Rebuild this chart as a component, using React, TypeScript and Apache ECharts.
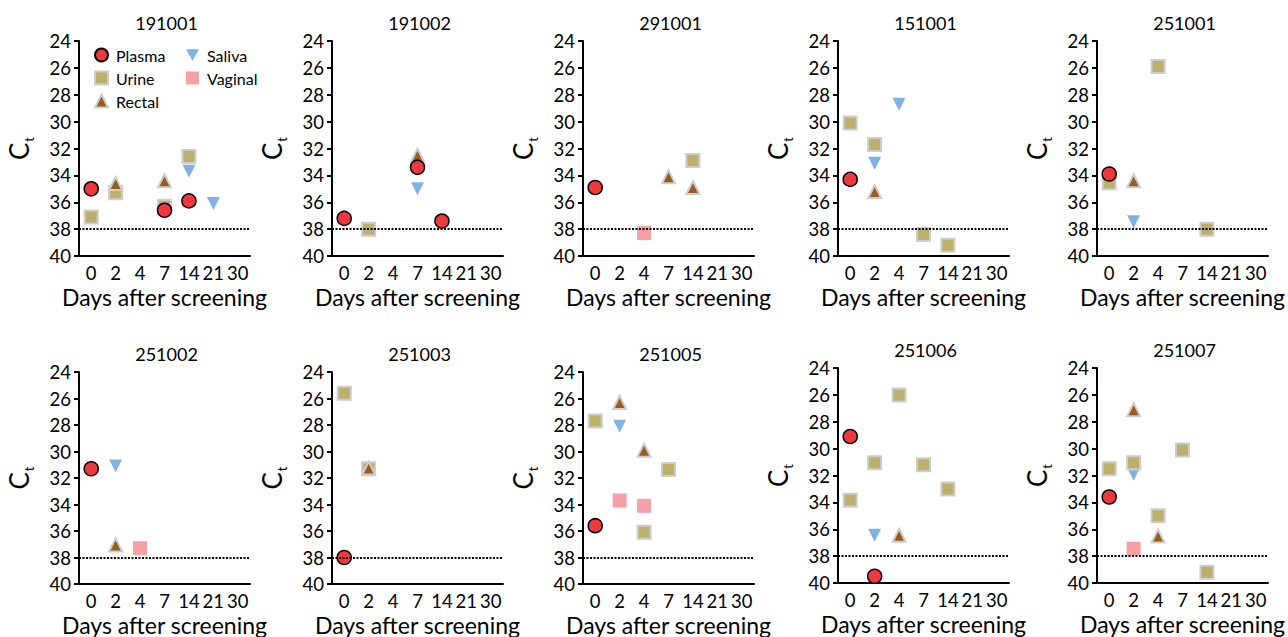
import React, { useEffect, useRef } from "react";
import * as echarts from "echarts";

const categories = ["0", "2", "4", "7", "14", "21", "30"];
const panelTitles = ["191001", "191002", "291001", "151001", "251001", "251002", "251003", "251005", "251006", "251007"];
const yTicks = { min: 24, max: 40, interval: 2 };
const threshold = 38;

// [day, Ct] per panel
const plasma = [
  [[0, 35.0], [7, 36.6], [14, 35.9]],
  [[0, 37.2], [7, 33.4], [14, 37.4]],
  [[0, 34.9]],
  [[0, 34.3]],
  [[0, 33.9]],
  [[0, 31.3]],
  [[0, 38.0]],
  [[0, 35.6]],
  [[0, 29.1], [2, 39.5]],
  [[0, 33.6]],
];
const urine = [
  [[0, 37.1], [2, 35.3], [7, 36.3], [14, 32.6]],
  [[2, 38.0]],
  [[14, 32.9]],
  [[0, 30.1], [2, 31.7], [7, 38.4], [14, 39.2]],
  [[0, 34.55], [4, 25.9], [14, 38.0]],
  [],
  [[0, 25.6], [2, 31.3]],
  [[0, 27.7], [4, 36.1], [7, 31.35]],
  [[0, 33.85], [2, 31.05], [4, 26.0], [7, 31.2], [14, 33.0]],
  [[0, 31.5], [2, 31.05], [4, 35.0], [7, 30.1], [14, 39.2]],
];
const rectal = [
  [[2, 34.6], [7, 34.4]],
  [[7, 32.5]],
  [[7, 34.1], [14, 34.9]],
  [[2, 35.2]],
  [[2, 34.4]],
  [[2, 37.05]],
  [[2, 31.25]],
  [[2, 26.3], [4, 29.9]],
  [[4, 36.45]],
  [[2, 27.1], [4, 36.5]],
];
const saliva = [
  [[14, 33.7], [21, 36.1]],
  [[7, 35.0]],
  [],
  [[2, 33.1], [4, 28.7]],
  [[2, 37.45]],
  [[2, 31.1]],
  [],
  [[2, 28.1]],
  [[2, 36.45]],
  [[2, 31.9]],
];
const vaginal = [
  [],
  [],
  [[4, 38.3]],
  [],
  [],
  [[4, 37.3]],
  [],
  [[2, 33.7], [4, 34.1]],
  [],
  [[2, 37.45]],
];

const FONT = "Lato";

export default function App() {
  const ref = useRef<HTMLDivElement>(null);
  useEffect(() => {
    if (!ref.current) return;
    const chart = echarts.init(ref.current, null, { renderer: "svg" });
    const lefts = [79, 332, 583, 838, 1097];
    const gridW = 171;
    const gridH = 215;
    const tops = [41, 41, 41, 41, 41, 372, 372, 372, 368, 368];
    const grids: any[] = [];
    const xAxes: any[] = [];
    const yAxes: any[] = [];
    const titles: any[] = [];
    const series: any[] = [];
    const toData = (arr: number[][]) => arr.map((d) => [String(d[0]), d[1]]);
    const greyBorder = "#cdcdcd";
    for (let i = 0; i < 10; i++) {
      const left = lefts[i % 5];
      const top = tops[i];
      grids.push({ left, top, width: gridW, height: gridH, containLabel: false });
      titles.push({
        text: panelTitles[i],
        left: left + gridW / 2 - 3,
        top: top - 32,
        textAlign: "center",
        textStyle: { fontFamily: FONT, fontSize: 18, fontWeight: "normal", color: "#000" },
      });
      xAxes.push({
        type: "category",
        gridIndex: i,
        data: categories,
        boundaryGap: true,
        name: "Days after screening",
        nameLocation: "middle",
        nameGap: 29,
        nameTextStyle: { fontFamily: FONT, fontSize: 23, lineHeight: 23, color: "#000" },
        axisLine: { lineStyle: { color: "#000", width: 2 } },
        axisTick: { alignWithLabel: true, length: 5, lineStyle: { color: "#000", width: 2 } },
        axisLabel: { fontFamily: FONT, fontSize: 18.5, lineHeight: 18, color: "#000", margin: 8, interval: 0 },
        splitLine: { show: false },
      });
      yAxes.push({
        type: "value",
        gridIndex: i,
        inverse: true,
        min: yTicks.min,
        max: yTicks.max,
        interval: yTicks.interval,
        name: "{c|C}{t|t}",
        nameLocation: "middle",
        nameGap: 46,
        nameRotate: 90,
        nameTextStyle: {
          rich: {
            c: { fontFamily: FONT, fontSize: 26, color: "#000", lineHeight: 28 },
            t: { fontFamily: FONT, fontSize: 13, color: "#000", lineHeight: 13, verticalAlign: "top", padding: [17, 0, 0, 1] },
          },
        },
        axisLine: { show: true, lineStyle: { color: "#000", width: 2 } },
        axisTick: { show: true, length: 5, lineStyle: { color: "#000", width: 2 } },
        axisLabel: { fontFamily: FONT, fontSize: 18.5, lineHeight: 18, color: "#000", margin: 8 },
        splitLine: { show: false },
      });
      // order: vaginal, saliva, urine, rectal, plasma (bottom -> top)
      series.push({
        name: "Vaginal",
        type: "scatter",
        xAxisIndex: i,
        yAxisIndex: i,
        symbol: "rect",
        symbolSize: 14,
        itemStyle: { color: "#f5a0a4", opacity: 1 },
        data: toData(vaginal[i]),
        markLine: {
          silent: true,
          symbol: ["none", "none"],
          label: { show: false },
          lineStyle: { type: [2, 1.5], color: "#000", width: 2 },
          data: [{ yAxis: threshold }],
        },
      });
      series.push({
        name: "Saliva",
        type: "scatter",
        xAxisIndex: i,
        yAxisIndex: i,
        symbol: "triangle",
        symbolRotate: 180,
        symbolSize: 13,
        itemStyle: { color: "#7fb3e6", opacity: 1 },
        data: toData(saliva[i]),
      });
      series.push({
        name: "Urine",
        type: "scatter",
        xAxisIndex: i,
        yAxisIndex: i,
        symbol: "rect",
        symbolSize: 13,
        itemStyle: { color: "#bdb06b", borderColor: greyBorder, borderWidth: 2, opacity: 1 },
        data: toData(urine[i]),
      });
      series.push({
        name: "Rectal",
        type: "scatter",
        xAxisIndex: i,
        yAxisIndex: i,
        symbol: "triangle",
        symbolSize: 13,
        itemStyle: { color: "#9a5b1f", borderColor: greyBorder, borderWidth: 2, opacity: 1 },
        data: toData(rectal[i]),
      });
      series.push({
        name: "Plasma",
        type: "scatter",
        xAxisIndex: i,
        yAxisIndex: i,
        symbol: "circle",
        symbolSize: 14,
        itemStyle: { color: "#ee3a3e", borderColor: "#000", borderWidth: 1.5, opacity: 1 },
        data: toData(plasma[i]),
      });
    }
    const legendText = { fontFamily: FONT, fontSize: 16, color: "#000", padding: [0, 0, 0, 3] };
    chart.setOption({
      animation: false,
      backgroundColor: "#fff",
      title: titles,
      legend: [
        {
          data: ["Plasma", "Urine", "Rectal"],
          orient: "vertical",
          left: 89,
          top: 42,
          itemWidth: 13,
          itemHeight: 13,
          itemGap: 7,
          selectedMode: false,
          textStyle: legendText,
        },
        {
          data: [
            { name: "Saliva", icon: "path://M0,0 L10,0 L5,9 Z" },
            "Vaginal",
          ],
          orient: "vertical",
          left: 181,
          top: 42,
          itemWidth: 13,
          itemHeight: 13,
          itemGap: 7,
          selectedMode: false,
          textStyle: legendText,
        },
      ],
      grid: grids,
      xAxis: xAxes,
      yAxis: yAxes,
      series,
    });
    return () => chart.dispose();
  }, []);
  return <div ref={ref} style={{ position: "absolute", left: 0, top: 0, width: 1288, height: 637 }} />;
}
